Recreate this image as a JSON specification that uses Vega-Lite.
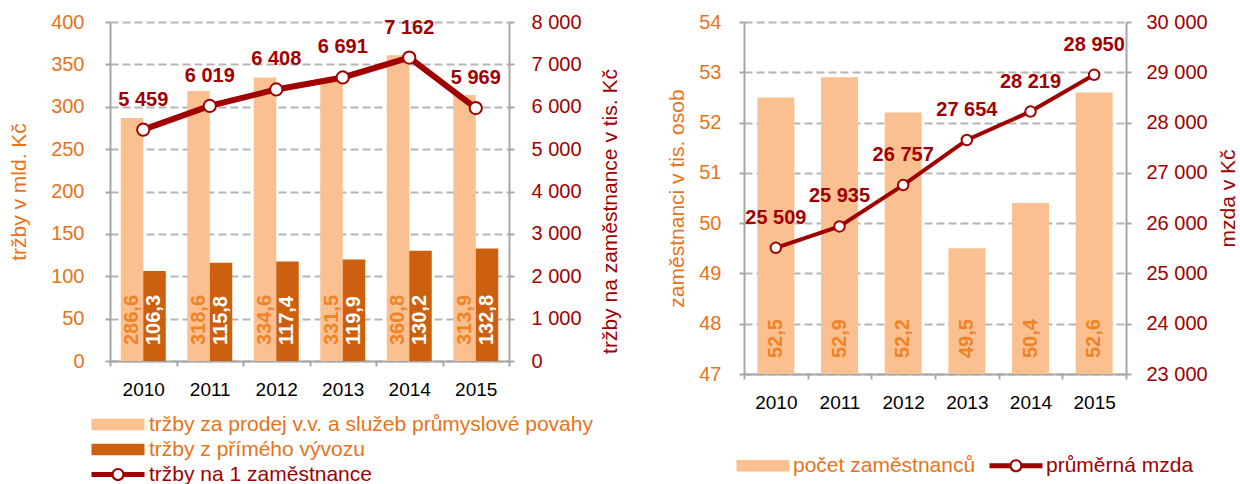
{
  "$schema": "https://vega.github.io/schema/vega-lite/v6.json",
  "background": "white",
  "padding": {"left": 8, "top": 12, "right": 0, "bottom": 0},
  "spacing": 45,
  "config": {
    "font": "Liberation Sans",
    "view": {"stroke": null},
    "locale": {"number": {"decimal": ",", "thousands": " ", "grouping": [3], "currency": ["", ""]}},
    "axis": {"domainColor": "#A6A6A6", "domainWidth": 2, "tickColor": "#A6A6A6", "tickWidth": 2, "tickSize": 5, "titleFontWeight": "normal", "labelFont": "Liberation Sans", "titleFont": "Liberation Sans"}
  },
  "resolve": {"scale": {"color": "independent"}, "legend": {"color": "independent"}},
  "hconcat": [
    {
      "width": 399,
      "height": 339,
      "layer": [
        {
          "data": {"values": [
            {"year": "2010", "series": "tržby za prodej v.v. a služeb průmyslové povahy", "value": 286.6},
            {"year": "2010", "series": "tržby z přímého vývozu", "value": 106.3},
            {"year": "2011", "series": "tržby za prodej v.v. a služeb průmyslové povahy", "value": 318.6},
            {"year": "2011", "series": "tržby z přímého vývozu", "value": 115.8},
            {"year": "2012", "series": "tržby za prodej v.v. a služeb průmyslové povahy", "value": 334.6},
            {"year": "2012", "series": "tržby z přímého vývozu", "value": 117.4},
            {"year": "2013", "series": "tržby za prodej v.v. a služeb průmyslové povahy", "value": 331.5},
            {"year": "2013", "series": "tržby z přímého vývozu", "value": 119.9},
            {"year": "2014", "series": "tržby za prodej v.v. a služeb průmyslové povahy", "value": 360.8},
            {"year": "2014", "series": "tržby z přímého vývozu", "value": 130.2},
            {"year": "2015", "series": "tržby za prodej v.v. a služeb průmyslové povahy", "value": 313.9},
            {"year": "2015", "series": "tržby z přímého vývozu", "value": 132.8}
          ]},
          "layer": [
            {
              "mark": {"type": "bar"},
              "encoding": {
                "x": {"field": "year", "type": "nominal", "scale": {"paddingInner": 0, "paddingOuter": 0},
                  "axis": {"title": null, "labelAngle": 0, "labelColor": "#000000", "labelFontSize": 19, "labelPadding": 14, "tickBand": "extent", "grid": false}},
                "xOffset": {"field": "series", "type": "nominal", "scale": {"domain": ["tržby za prodej v.v. a služeb průmyslové povahy", "tržby z přímého vývozu"], "paddingInner": 0, "paddingOuter": 0.478}},
                "y": {"field": "value", "type": "quantitative", "scale": {"domain": [0, 400], "nice": false},
                  "axis": {"orient": "left", "values": [0, 50, 100, 150, 200, 250, 300, 350, 400], "grid": true, "gridDash": [8, 4], "gridColor": "#B5B5B5", "gridWidth": 2, "labelColor": "#E8731A", "labelFontSize": 20, "labelPadding": 21, "title": "tržby v mld. Kč", "titleColor": "#E8731A", "titleFontSize": 21, "titlePadding": 21}},
                "color": {"field": "series", "type": "nominal",
                  "scale": {"domain": ["tržby za prodej v.v. a služeb průmyslové povahy", "tržby z přímého vývozu", "tržby na 1 zaměstnance"], "range": ["#FAC090", "#CC600F", "#A00000"]},
                  "legend": {
                    "orient": "none", "legendX": -2.5, "legendY": 392, "direction": "vertical", "title": null,
                    "symbolSize": 400, "labelFontSize": 21, "labelOffset": 20.5, "rowPadding": 3, "padding": 0, "labelLimit": 1000,
                    "encode": {
                      "symbols": {"update": {
                        "shape": {"signal": "datum.value === 'tržby na 1 zaměstnance' ? 'M-2.65,-0.25L-0.6,-0.25L-0.6,0.25L-2.65,0.25ZM0.6,-0.25L2.65,-0.25L2.65,0.25L0.6,0.25ZM0.66,0A0.66,0.66 0 1,1 -0.66,0A0.66,0.66 0 1,1 0.66,0ZM0.44,0A0.44,0.44 0 1,0 -0.44,0A0.44,0.44 0 1,0 0.44,0Z' : 'M-2.65,-0.585L2.65,-0.585L2.65,0.585L-2.65,0.585Z'"},
                        "fill": {"signal": "datum.value === 'tržby na 1 zaměstnance' ? '#A00000' : (datum.value === 'tržby z přímého vývozu' ? '#CC600F' : '#FAC090')"},
                        "stroke": {"value": "transparent"},
                        "strokeWidth": {"value": 0},
                        "opacity": {"value": 1}
                      }},
                      "labels": {"update": {"fill": {"signal": "datum.value === 'tržby na 1 zaměstnance' ? '#A00000' : '#E8731A'"}}}
                    }
                  }}
              }
            },
            {
              "mark": {"type": "text", "angle": 270, "align": "left", "baseline": "middle", "dx": 16, "fontWeight": "bold", "fontSize": 20},
              "encoding": {
                "x": {"field": "year", "type": "nominal"},
                "xOffset": {"field": "series", "type": "nominal"},
                "y": {"datum": 0},
                "text": {"field": "value", "type": "quantitative", "format": ".1f"},
                "color": {"condition": {"test": "datum.series === 'tržby z přímého vývozu'", "value": "#FFFFFF"}, "value": "#EE8428"}
              }
            }
          ]
        },
        {
          "data": {"values": [
            {"year": "2010", "value": 5459},
            {"year": "2011", "value": 6019},
            {"year": "2012", "value": 6408},
            {"year": "2013", "value": 6691},
            {"year": "2014", "value": 7162},
            {"year": "2015", "value": 5969}
          ]},
          "encoding": {
            "x": {"field": "year", "type": "nominal"},
            "y": {"field": "value", "type": "quantitative", "scale": {"domain": [0, 8000], "nice": false},
              "axis": {"orient": "right", "values": [0, 1000, 2000, 3000, 4000, 5000, 6000, 7000, 8000], "format": ",d", "grid": false, "labelColor": "#A00000", "labelFontSize": 20, "labelPadding": 17, "title": "tržby na zaměstnance v tis. Kč", "titleColor": "#A00000", "titleFontSize": 21, "titleAngle": 270, "titleBaseline": "top", "titlePadding": 18, "titleY": 189}}
          },
          "layer": [
            {"mark": {"type": "line", "color": "#A00000", "strokeWidth": 6}},
            {"mark": {"type": "point", "filled": true, "fill": "#FFFFFF", "stroke": "#A00000", "strokeWidth": 2, "size": 150, "opacity": 1}},
            {"mark": {"type": "text", "dy": -30, "fontWeight": "bold", "fontSize": 20, "color": "#A00000"},
              "encoding": {"text": {"field": "value", "type": "quantitative", "format": ",d"}}}
          ]
        }
      ],
      "resolve": {"scale": {"y": "independent"}}
    },
    {
      "width": 382,
      "height": 352,
      "layer": [
        {
          "data": {"values": [
            {"year": "2010", "series": "počet zaměstnanců", "value": 52.5},
            {"year": "2011", "series": "počet zaměstnanců", "value": 52.9},
            {"year": "2012", "series": "počet zaměstnanců", "value": 52.2},
            {"year": "2013", "series": "počet zaměstnanců", "value": 49.5},
            {"year": "2014", "series": "počet zaměstnanců", "value": 50.4},
            {"year": "2015", "series": "počet zaměstnanců", "value": 52.6}
          ]},
          "layer": [
            {
              "mark": {"type": "bar", "width": {"band": 0.58}},
              "encoding": {
                "x": {"field": "year", "type": "nominal", "scale": {"paddingInner": 0, "paddingOuter": 0},
                  "axis": {"title": null, "labelAngle": 0, "labelColor": "#000000", "labelFontSize": 19, "labelPadding": 14, "tickBand": "extent", "grid": false}},
                "y": {"field": "value", "type": "quantitative", "scale": {"domain": [47, 54], "nice": false, "zero": false},
                  "axis": {"orient": "left", "values": [47, 48, 49, 50, 51, 52, 53, 54], "grid": true, "gridDash": [8, 4], "gridColor": "#B5B5B5", "gridWidth": 2, "labelColor": "#E8731A", "labelFontSize": 20, "labelPadding": 18, "title": "zaměstnanci v tis. osob", "titleColor": "#E8731A", "titleFontSize": 21, "titlePadding": 11}},
                "y2": {"datum": 47},
                "color": {"field": "series", "type": "nominal",
                  "scale": {"domain": ["počet zaměstnanců", "průměrná mzda"], "range": ["#FAC090", "#A00000"]},
                  "legend": {
                    "orient": "none", "legendX": 8.5, "legendY": 433, "direction": "horizontal", "columns": 2, "columnPadding": 14, "title": null,
                    "symbolSize": 400, "labelFontSize": 21, "labelOffset": 19.5, "padding": 0, "labelLimit": 1000,
                    "encode": {
                      "symbols": {"update": {
                        "shape": {"signal": "datum.value === 'průměrná mzda' ? 'M-2.65,-0.25L-0.6,-0.25L-0.6,0.25L-2.65,0.25ZM0.6,-0.25L2.65,-0.25L2.65,0.25L0.6,0.25ZM0.66,0A0.66,0.66 0 1,1 -0.66,0A0.66,0.66 0 1,1 0.66,0ZM0.44,0A0.44,0.44 0 1,0 -0.44,0A0.44,0.44 0 1,0 0.44,0Z' : 'M-2.65,-0.585L2.65,-0.585L2.65,0.585L-2.65,0.585Z'"},
                        "fill": {"signal": "datum.value === 'průměrná mzda' ? '#A00000' : '#FAC090'"},
                        "stroke": {"value": "transparent"},
                        "strokeWidth": {"value": 0},
                        "opacity": {"value": 1}
                      }},
                      "labels": {"update": {"fill": {"signal": "datum.value === 'průměrná mzda' ? '#A00000' : '#E8731A'"}}}
                    }
                  }}
              }
            },
            {
              "mark": {"type": "text", "angle": 270, "align": "left", "baseline": "middle", "dx": 16, "fontWeight": "bold", "fontSize": 20, "color": "#EE8428"},
              "encoding": {
                "x": {"field": "year", "type": "nominal"},
                "y": {"datum": 47},
                "text": {"field": "value", "type": "quantitative", "format": ".1f"}
              }
            }
          ]
        },
        {
          "data": {"values": [
            {"year": "2010", "value": 25509},
            {"year": "2011", "value": 25935},
            {"year": "2012", "value": 26757},
            {"year": "2013", "value": 27654},
            {"year": "2014", "value": 28219},
            {"year": "2015", "value": 28950}
          ]},
          "encoding": {
            "x": {"field": "year", "type": "nominal"},
            "y": {"field": "value", "type": "quantitative", "scale": {"domain": [23000, 30000], "nice": false, "zero": false},
              "axis": {"orient": "right", "values": [23000, 24000, 25000, 26000, 27000, 28000, 29000, 30000], "format": ",d", "grid": false, "labelColor": "#A00000", "labelFontSize": 20, "labelPadding": 15, "title": "mzda v Kč", "titleColor": "#A00000", "titleFontSize": 21, "titleAngle": 270, "titleBaseline": "top", "titlePadding": 10}}
          },
          "layer": [
            {"mark": {"type": "line", "color": "#A00000", "strokeWidth": 4}},
            {"mark": {"type": "point", "filled": true, "fill": "#FFFFFF", "stroke": "#A00000", "strokeWidth": 2, "size": 110, "opacity": 1}},
            {"mark": {"type": "text", "dy": -30, "fontWeight": "bold", "fontSize": 20, "color": "#A00000"},
              "encoding": {"text": {"field": "value", "type": "quantitative", "format": ",d"}}}
          ]
        }
      ],
      "resolve": {"scale": {"y": "independent"}}
    }
  ]
}
